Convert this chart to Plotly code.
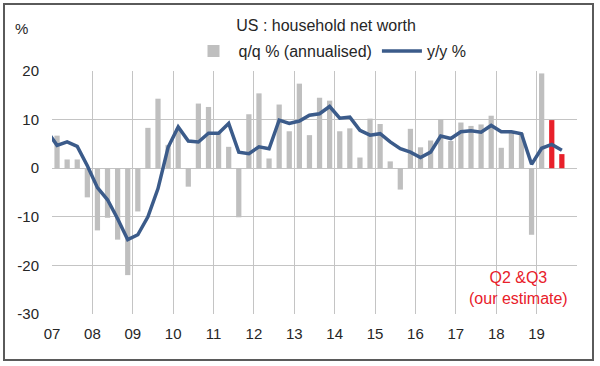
import plotly.graph_objects as go

# ---- data ----
quarters = ["2006Q4"] + [f"{y}Q{q}" for y in range(2007, 2020) for q in range(1, 5)][:51]

qq_annualised = [
    None,
    6.7, 1.8, 1.8, -6.0,
    -12.8, -10.2, -14.7, -22.0,
    -8.9, 8.3, 14.3, 4.8,
    8.2, -3.8, 13.3, 12.6,
    7.4, 4.4, -10.1, 11.1,
    15.4, 2.0, 13.1, 7.6,
    17.4, 6.8, 14.5, 13.9,
    7.6, 8.2, 2.2, 10.2,
    9.1, 1.4, -4.4, 8.1,
    4.3, 5.7, 10.1, 5.6,
    9.4, 8.7, 9.0, 10.8,
    4.2, 7.5, 7.2, -13.7,
    19.5, 9.9, 2.9,
]

yy = [
    7.7,
    4.7, 5.4, 4.5, 0.5,
    -4.0, -6.5, -10.4, -14.7,
    -13.7, -10.0, -4.2, 4.3,
    8.5, 5.6, 5.4, 7.2,
    7.2, 9.2, 3.3, 3.0,
    4.4, 4.0, 9.9, 9.2,
    9.7, 10.9, 11.2, 12.7,
    10.3, 10.5, 7.8, 6.8,
    7.1, 5.4, 4.0, 3.3,
    2.2, 3.3, 6.6, 6.1,
    7.5, 7.7, 7.4, 8.8,
    7.5, 7.5, 7.1, 0.8,
    4.1, 4.9, 3.7,
]

estimate_quarters = ["2019Q2", "2019Q3"]
year_labels = ["07", "08", "09", "10", "11", "12", "13", "14", "15", "16", "17", "18", "19"]
y_ticks = [20, 10, 0, -10, -20, -30]
y_ticktext = ["20", "10", "0", "-10", "-20", "-30"]

# ---- positions: quarter index, 2007Q1 = 0 ----
xpos = [i - 1 for i in range(len(quarters))]
bar_colors = ["#e8202a" if q in estimate_quarters else "#bfbfbf" for q in quarters]

FONT = "Liberation Sans, Arial, sans-serif"
TXT = "#262626"
GRID = "#c4c4c4"

fig = go.Figure()
fig.add_trace(go.Bar(
    x=xpos, y=qq_annualised, name="q/q % (annualised)",
    marker=dict(color=bar_colors, line=dict(width=0)),
    width=0.52,
))
fig.add_trace(go.Scatter(
    x=xpos, y=yy, name="y/y %", mode="lines",
    line=dict(color="#3b5b8a", width=3.5),
))

tickvals_x = [-0.5 + 4 * k for k in range(len(year_labels))] + [51.5]
ticktext_x = year_labels + [""]

fig.update_layout(
    width=600, height=366,
    margin=dict(l=52, r=23, t=71, b=52, autoexpand=False),
    paper_bgcolor="white", plot_bgcolor="white",
    font=dict(family=FONT, size=15, color=TXT),
    title=dict(text="US : household net worth", x=0.522, xanchor="center",
               xref="paper", y=1 - 25 / 366, yanchor="middle",
               font=dict(family=FONT, size=16, color=TXT)),
    showlegend=True,
    legend=dict(orientation="h", x=0.26, xanchor="left", y=1.082, yanchor="middle",
                font=dict(family=FONT, size=16, color=TXT),
                bgcolor="rgba(0,0,0,0)", itemwidth=40, traceorder="normal"),
)

fig.update_xaxes(
    range=[-0.5, 51.5], tickmode="array", tickvals=tickvals_x, ticktext=ticktext_x,
    showgrid=True, gridcolor=GRID, gridwidth=1,
    zeroline=False, showline=False, ticks="", ticklabelstandoff=9,
    tickfont=dict(family=FONT, size=15, color=TXT),
)
fig.update_yaxes(
    range=[-30, 20], tickmode="array", tickvals=y_ticks, ticktext=y_ticktext,
    showgrid=True, gridcolor=GRID, gridwidth=1,
    zeroline=False, showline=False, ticks="", ticklabelstandoff=12,
    tickfont=dict(family=FONT, size=15, color=TXT),
)

fig.add_annotation(text="%", xref="paper", yref="paper",
                   x=(21 - 52) / 525, y=(314 - 28) / 243,
                   xanchor="center", yanchor="middle",
                   showarrow=False, font=dict(family=FONT, size=15, color=TXT))
fig.add_annotation(text="Q2 &Q3<br>(our estimate)", xref="x", yref="y",
                   x=45.7, y=-24.6, xanchor="center", yanchor="middle",
                   showarrow=False, align="center",
                   font=dict(family=FONT, size=16, color="#e8202a"))

# outer frame
fig.add_shape(type="rect", xref="paper", yref="paper",
              x0=(4 - 52) / 525, x1=(593 - 52) / 525,
              y0=(314 - 360) / 243, y1=(314 - 4) / 243,
              line=dict(color="#5a5a5a", width=2), fillcolor="rgba(0,0,0,0)",
              layer="above")

fig.write_html("out.html",
               config={"displayModeBar": False},
               post_script="document.body.style.margin='0';document.body.style.overflow='hidden';")
